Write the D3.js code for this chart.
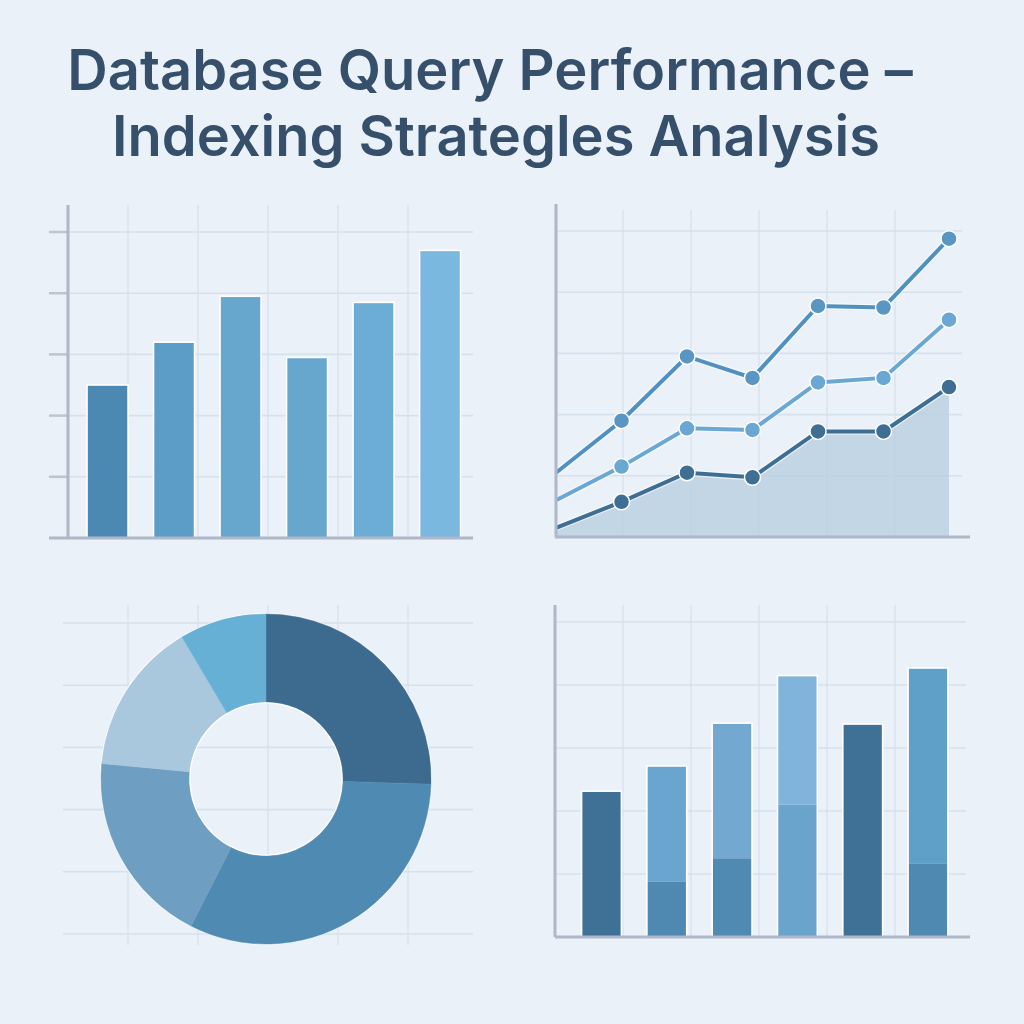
<!DOCTYPE html>
<html>
<head>
<meta charset="utf-8">
<script src="https://cdn.jsdelivr.net/npm/d3@7"></script>
<style>
  body { margin: 0; background: #eaf1f8; }
</style>
</head>
<body>
<div id="chart"></div>
<script>
var titleLines = ['Database Query Performance \u2013', 'Indexing Strategles Analysis'];

// panel 1 - bar chart
var latencyCats = ['No Index', 'B-Tree', 'Hash', 'Composite', 'Covering', 'Partial'];
var latencyVals = [50, 64, 79, 59, 77, 94];
var latencyColors = ['#4b88b2', '#5c9dc8', '#67a7ce', '#67a7ce', '#6badd4', '#7ab8df'];

// panel 2 - line chart
var runLabels = ['R0', 'R1', 'R2', 'R3', 'R4', 'R5', 'R6'];
var seriesA = [21, 38, 59, 52, 75.5, 75, 97.5];
var seriesB = [12, 23, 35.5, 35, 50.5, 52, 71];
var seriesC = [3, 11.5, 21, 19.5, 34.5, 34.5, 49];
var lineColors = ['#5191c2', '#6aa8d3', '#3f6e94'];

// panel 3 - donut
var shareCats = ['B-Tree', 'Hash', 'Composite', 'Covering', 'None'];
var shareVals = [25.5, 32, 19, 15, 8.5];
var shareColors = ['#3d6b8f', '#4f8ab3', '#6e9ec1', '#a9c8de', '#67b0d5'];

// panel 4 - stacked bars
var stackCats = ['A', 'B', 'C', 'D', 'E', 'F'];
var stackLower = [46.3, 17.5, 25, 42, 67.6, 23.2];
var stackUpper = [0, 36.8, 42.9, 41, 0, 62.2];
var lowerColors = ['#3f7096', '#4f88b0', '#5089b1', '#6aa3cc', '#3f7096', '#4f88b0'];
var upperColors = ['#3f7096', '#6aa5cf', '#73a9d1', '#80b4da', '#3f7096', '#5ea0c8'];

var gridTicks = [20, 40, 60, 80, 100];

var width = 1024, height = 1024;
var axisColor = '#aeb8c8', gridColor = '#d5e1ed';

var svg = d3.select('#chart')
            .append('svg')
            .attr('width', width)
            .attr('height', height)
            .style('font-family', 'Inter, "Open Sans", sans-serif');

svg.append('rect').attr('width', width).attr('height', height).attr('fill', '#eaf1f8');

// title
svg.selectAll('.title')
    .data(titleLines)
    .enter()
    .append('text')
    .attr('class', 'title')
    .attr('x', function(d, i) { return i == 0 ? 490 : 496; })
    .attr('y', function(d, i) { return 90 + i * 66; })
    .attr('text-anchor', 'middle')
    .attr('font-size', 56)
    .attr('font-weight', 600)
    .attr('fill', '#36506c')
    .text(function(d) { return d; });

function vGrid(g, xs, y0, y1) {
    g.selectAll('.vg')
        .data(xs)
        .enter()
        .append('line')
        .attr('x1', function(d) { return d; })
        .attr('x2', function(d) { return d; })
        .attr('y1', y0)
        .attr('y2', y1)
        .style('stroke', gridColor)
        .style('stroke-width', 1.2);
}

function hGrid(g, y, x0, x1) {
    g.selectAll('.hg')
        .data(gridTicks)
        .enter()
        .append('line')
        .attr('x1', x0)
        .attr('x2', x1)
        .attr('y1', function(d) { return y(d); })
        .attr('y2', function(d) { return y(d); })
        .style('stroke', gridColor)
        .style('stroke-width', 1.6);
}

function axes(g, x0, yTop, yBase, xEnd, xStart) {
    g.append('line')
        .attr('x1', xStart).attr('x2', xEnd)
        .attr('y1', yBase).attr('y2', yBase)
        .style('stroke', axisColor).style('stroke-width', 3);
    g.append('line')
        .attr('x1', x0).attr('x2', x0)
        .attr('y1', yTop).attr('y2', yBase)
        .style('stroke', axisColor).style('stroke-width', 3);
}

// ---------- panel 1
var g1 = svg.append('g');
var x1 = d3.scaleBand().domain(latencyCats).range([68, 479.6]).paddingInner(0.383).paddingOuter(0.286);
var y1 = d3.scaleLinear().domain([0, 100]).range([538, 232]);
var gx1 = d3.scaleLinear().domain([0, 6]).range([58, 478]);

vGrid(g1, [1, 2, 3, 4, 5].map(gx1), 205, 538);
hGrid(g1, y1, 68, 473);

g1.selectAll('.tick1')
    .data(gridTicks)
    .enter()
    .append('line')
    .attr('x1', 49).attr('x2', 68)
    .attr('y1', function(d) { return y1(d); })
    .attr('y2', function(d) { return y1(d); })
    .style('stroke', '#bcc5d2')
    .style('stroke-width', 2.5);

g1.selectAll('.bar')
    .data(latencyVals)
    .enter()
    .append('rect')
    .attr('x', function(d, i) { return x1(latencyCats[i]); })
    .attr('y', function(d) { return y1(d); })
    .attr('width', x1.bandwidth())
    .attr('height', function(d) { return y1(0) - y1(d); })
    .attr('fill', function(d, i) { return latencyColors[i]; })
    .style('stroke', '#ffffff')
    .style('stroke-width', 1.6);

axes(g1, 68, 205, 538, 473, 49);

// ---------- panel 2
var g2 = svg.append('g');
var x2 = d3.scalePoint().domain(d3.range(runLabels.length)).range([556, 949]);
var y2 = d3.scaleLinear().domain([0, 100]).range([537, 231]);
var gx2 = d3.scaleLinear().domain([0, 6]).range([555, 963]);

vGrid(g2, [1, 2, 3, 4, 5].map(gx2), 210, 537);
hGrid(g2, y2, 556, 962);

var area = d3.area()
    .x(function(d, i) { return x2(i); })
    .y0(y2(0))
    .y1(function(d) { return y2(d); });

g2.append('path')
    .datum(seriesC)
    .attr('d', area)
    .attr('fill', '#b9cfe1')
    .attr('fill-opacity', 0.8);

var line = d3.line()
    .x(function(d, i) { return x2(i); })
    .y(function(d) { return y2(d); });

[seriesA, seriesB, seriesC].forEach(function(s, k) {
    g2.append('path')
        .datum(s)
        .attr('d', line)
        .attr('fill', 'none')
        .style('stroke', '#ffffff')
        .style('stroke-width', 6.5)
        .style('stroke-opacity', 0.6);
    g2.append('path')
        .datum(s)
        .attr('d', line)
        .attr('fill', 'none')
        .style('stroke', lineColors[k])
        .style('stroke-width', 4);
    g2.selectAll('.pt' + k)
        .data(s.slice(1))
        .enter()
        .append('circle')
        .attr('cx', function(d, i) { return x2(i + 1); })
        .attr('cy', function(d) { return y2(d); })
        .attr('r', 8)
        .attr('fill', k == 0 ? '#5a96c4' : lineColors[k])
        .style('stroke', '#ffffff')
        .style('stroke-width', 1.5);
});

axes(g2, 556, 204, 537, 970, 555);

// ---------- panel 3
var g3 = svg.append('g');
var gy3 = d3.scaleLinear().domain([0, 5]).range([623, 934]);
g3.selectAll('.hg3')
    .data(d3.range(6))
    .enter()
    .append('line')
    .attr('x1', 63).attr('x2', 473)
    .attr('y1', function(d) { return gy3(d); })
    .attr('y2', function(d) { return gy3(d); })
    .style('stroke', gridColor)
    .style('stroke-width', 1.6);
vGrid(g3, [1, 2, 3, 4, 5].map(gx1), 605, 945);

var pie = d3.pie().sort(null).value(function(d) { return d; });
var arc = d3.arc().innerRadius(77).outerRadius(165);

var donut = g3.append('g').attr('transform', 'translate(266,779)');
donut.append('circle').attr('r', 166).attr('fill', '#ffffff');
donut.selectAll('.slice')
    .data(pie(shareVals))
    .enter()
    .append('path')
    .attr('d', arc)
    .attr('fill', function(d, i) { return shareColors[i]; })
    .style('stroke', function(d, i) { return shareColors[i]; })
    .style('stroke-width', 0.5);
donut.append('circle').attr('r', 76.5).attr('fill', '#ffffff');

// grid seen through the hole
svg.append('clipPath')
    .attr('id', 'hole')
    .append('circle')
    .attr('cx', 266).attr('cy', 779).attr('r', 75.5);
var hole = g3.append('g').attr('clip-path', 'url(#hole)');
hole.append('rect')
    .attr('x', 180).attr('y', 690).attr('width', 180).attr('height', 180)
    .attr('fill', '#eaf1f8');
hole.selectAll('.hh')
    .data([2, 3])
    .enter()
    .append('line')
    .attr('x1', 180).attr('x2', 360)
    .attr('y1', function(d) { return gy3(d); })
    .attr('y2', function(d) { return gy3(d); })
    .style('stroke', gridColor)
    .style('stroke-width', 1.6);
hole.append('line')
    .attr('x1', gx1(3)).attr('x2', gx1(3))
    .attr('y1', 690).attr('y2', 870)
    .style('stroke', gridColor)
    .style('stroke-width', 1.2);

// ---------- panel 4
var g4 = svg.append('g');
var x4 = d3.scaleBand().domain(stackCats).range([555, 974.5]).paddingInner(0.39).paddingOuter(0.407);
var y4 = d3.scaleLinear().domain([0, 100]).range([937, 622]);

vGrid(g4, [1, 2, 3, 4, 5].map(gx2), 605, 937);
hGrid(g4, y4, 555, 966);

g4.selectAll('.lower')
    .data(stackLower)
    .enter()
    .append('rect')
    .attr('x', function(d, i) { return x4(stackCats[i]); })
    .attr('y', function(d) { return y4(d); })
    .attr('width', x4.bandwidth())
    .attr('height', function(d) { return y4(0) - y4(d); })
    .attr('fill', function(d, i) { return lowerColors[i]; });

g4.selectAll('.upper')
    .data(stackUpper)
    .enter()
    .append('rect')
    .attr('x', function(d, i) { return x4(stackCats[i]); })
    .attr('y', function(d, i) { return y4(d + stackLower[i]); })
    .attr('width', x4.bandwidth())
    .attr('height', function(d) { return y4(0) - y4(d); })
    .attr('fill', function(d, i) { return upperColors[i]; });

g4.selectAll('.outline')
    .data(stackUpper)
    .enter()
    .append('rect')
    .attr('x', function(d, i) { return x4(stackCats[i]); })
    .attr('y', function(d, i) { return y4(d + stackLower[i]); })
    .attr('width', x4.bandwidth())
    .attr('height', function(d, i) { return y4(0) - y4(d + stackLower[i]); })
    .attr('fill', 'none')
    .style('stroke', '#ffffff')
    .style('stroke-width', 1.6);

axes(g4, 555, 605, 937, 970, 555);
</script>
</body>
</html>
